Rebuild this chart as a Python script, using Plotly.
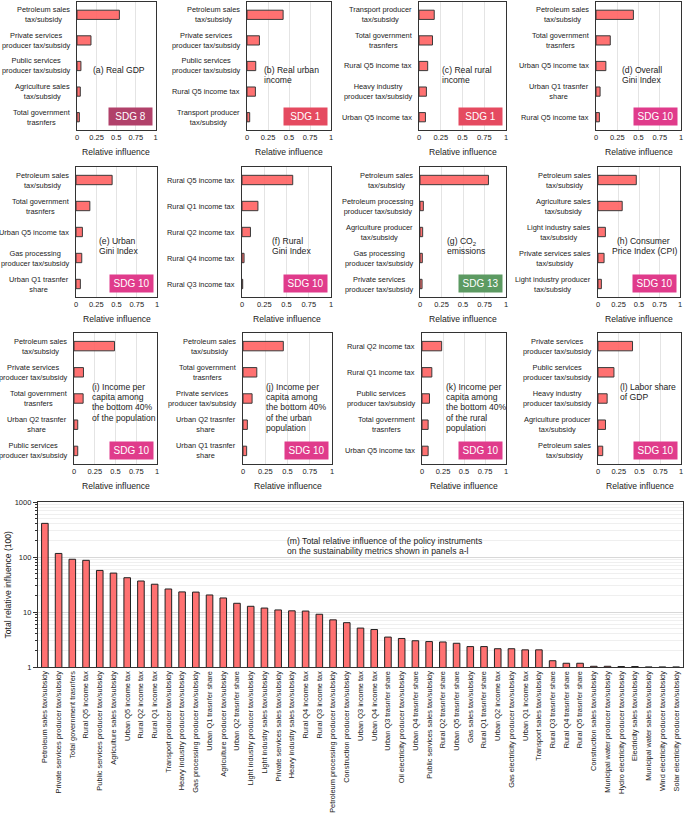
import plotly.graph_objects as go

# ---------------- data ----------------
tick_vals_rel = [0, 0.25, 0.5, 0.75, 1]
tick_text_rel = ["0", "0.25", "0.5", "0.75", "1"]

cats_a = ["Petroleum sales|tax/subsidy", "Private services|producer tax/subsidy", "Public services|producer tax/subsidy", "Agriculture sales|tax/subsidy", "Total government|trasnfers"]
vals_a = [0.54, 0.178, 0.05, 0.042, 0.03]
note_a = ["(a) Real GDP"]
sdg_a = "SDG 8"

cats_b = ["Petroleum sales|tax/subsidy", "Private services|producer tax/subsidy", "Public services|producer tax/subsidy", "Rural Q5 income tax", "Transport producer|tax/subsidy"]
vals_b = [0.43, 0.148, 0.104, 0.1, 0.032]
note_b = ["(b) Real urban", "income"]
sdg_b = "SDG 1"

cats_c = ["Transport producer|tax/subsidy", "Total government|trasnfers", "Rural Q5 income tax", "Heavy industry|producer tax/subsidy", "Urban Q5 income tax"]
vals_c = [0.175, 0.155, 0.1, 0.085, 0.074]
note_c = ["(c) Real rural", "income"]
sdg_c = "SDG 1"

cats_d = ["Petroleum sales|tax/subsidy", "Total government|trasnfers", "Urban Q5 income tax", "Urban Q1 trasnfer|share", "Rural Q5 income tax"]
vals_d = [0.44, 0.168, 0.116, 0.048, 0.04]
note_d = ["(d) Overall", "Gini Index"]
sdg_d = "SDG 10"

cats_e = ["Petroleum sales|tax/subsidy", "Total government|trasnfers", "Urban Q5 income tax", "Gas processing|producer tax/subsidy", "Urban Q1 trasnfer|share"]
vals_e = [0.446, 0.171, 0.079, 0.071, 0.054]
note_e = ["(e) Urban", "Gini Index"]
sdg_e = "SDG 10"

cats_f = ["Rural Q5 income tax", "Rural Q1 income tax", "Rural Q2 income tax", "Rural Q4 income tax", "Rural Q3 income tax"]
vals_f = [0.57, 0.179, 0.095, 0.023, 0.008]
note_f = ["(f) Rural", "Gini Index"]
sdg_f = "SDG 10"

cats_g = ["Petroleum sales|tax/subsidy", "Petroleum processing|producer tax/subsidy", "Agriculture producer|tax/subsidy", "Gas processing|producer tax/subsidy", "Private services|producer tax/subsidy"]
vals_g = [0.796, 0.039, 0.031, 0.027, 0.024]
note_g = ["(g) CO<sub>2</sub>", "emissions"]
sdg_g = "SDG 13"

cats_h = ["Petroleum sales|tax/subsidy", "Agriculture sales|tax/subsidy", "Light industry sales|tax/subsidy", "Private services sales|tax/subsidy", "Light industry producer|tax/subsidy"]
vals_h = [0.467, 0.295, 0.09, 0.074, 0.041]
note_h = ["(h) Consumer", "Price Index (CPI)"]
sdg_h = "SDG 10"

cats_i = ["Petroleum sales|tax/subsidy", "Private services|producer tax/subsidy", "Total government|trasnfers", "Urban Q2 trasnfer|share", "Public services|producer tax/subsidy"]
vals_i = [0.488, 0.114, 0.11, 0.045, 0.045]
note_i = ["(i) Income per", "capita among", "the bottom 40%", "of the population"]
sdg_i = "SDG 10"

cats_j = ["Petroleum sales|tax/subsidy", "Total government|trasnfers", "Private services|producer tax/subsidy", "Urban Q2 trasnfer|share", "Urban Q1 trasnfer|share"]
vals_j = [0.453, 0.155, 0.102, 0.049, 0.041]
note_j = ["(j) Income per", "capita among", "the bottom 40%", "of the urban", "population"]
sdg_j = "SDG 10"

cats_k = ["Rural Q2 income tax", "Rural Q1 income tax", "Public services|producer tax/subsidy", "Total government|trasnfers", "Urban Q5 income tax"]
vals_k = [0.234, 0.117, 0.089, 0.073, 0.073]
note_k = ["(k) Income per", "capita among", "the bottom 40%", "of the rural", "population"]
sdg_k = "SDG 10"

cats_l = ["Private services|producer tax/subsidy", "Public services|producer tax/subsidy", "Heavy industry|producer tax/subsidy", "Agriculture producer|tax/subsidy", "Petroleum sales|tax/subsidy"]
vals_l = [0.416, 0.192, 0.11, 0.09, 0.057]
note_l = ["(l) Labor share", "of GDP"]
sdg_l = "SDG 10"

total_cats = [
    "Petroleum sales tax/subsidy", "Private services producer tax/subsidy", "Total government trasnfers",
    "Rural Q5 income tax", "Public services producer tax/subsidy", "Agriculture sales tax/subsidy",
    "Urban Q5 income tax", "Rural Q2 income tax", "Rural Q1 income tax", "Transport producer tax/subsidy",
    "Heavy industry producer tax/subsidy", "Gas processing producer tax/subsidy", "Urban Q1 trasnfer share",
    "Agriculture producer tax/subsidy", "Urban Q2 trasnfer share", "Light industry producer tax/subsidy",
    "Light industry sales tax/subsidy", "Private services sales tax/subsidy", "Heavy industry sales tax/subsidy",
    "Rural Q4 income tax", "Rural Q3 income tax", "Petroleum processing producer tax/subsidy",
    "Construction producer tax/subsidy", "Urban Q3 income tax", "Urban Q4 income tax", "Urban Q3 trasnfer share",
    "Oil electricity producer tax/subsidy", "Urban Q4 trasnfer share", "Public services sales tax/subsidy",
    "Rural Q2 trasnfer share", "Urban Q5 trasnfer share", "Gas sales tax/subsidy", "Rural Q1 trasnfer share",
    "Urban Q2 income tax", "Gas electricity producer tax/subsidy", "Urban Q1 income tax",
    "Transport sales tax/subsidy", "Rural Q3 trasnfer share", "Rural Q4 trasnfer share", "Rural Q5 trasnfer share",
    "Construction sales tax/subsidy", "Municipal water producer tax/subsidy", "Hydro electricity producer tax/subsidy",
    "Electricity sales tax/subsidy", "Municipal water sales tax/subsidy", "Wind electricity producer tax/subsidy",
    "Solar electricity producer tax/subsidy",
]
total_vals = [
    409, 116, 91, 87, 57, 51, 42, 36.6, 32, 26.2, 23.2, 23, 20.4, 18, 14.4, 12.7, 11.8, 10.9, 10.5, 10.4,
    9.1, 7.2, 6.4, 5.1, 4.8, 3.5, 3.3, 3.0, 2.9, 2.85, 2.7, 2.35, 2.35, 2.15, 2.15, 2.05, 2.05, 1.3,
    1.17, 1.17, 1.03, 1.03, 1.02, 1.02, 1.005, 1.005, 1.005,
]
log_tick_vals = [1, 10, 100, 1000]
log_tick_text = ["1", "10", "100", "1000"]
note_m = ["(m) Total relative influence of the policy instruments", "on the sustainability metrics shown in panels a-l"]

# ---------------- layout geometry / styles ----------------
W, H = 685, 814
FONT = "Liberation Sans, Arial, Helvetica, sans-serif"
TXT = "#222222"
BAR_FILL = "rgba(255,98,98,0.9)"
BAR_LINE = "#3a3a3a"
SDG_COLORS = {"SDG 8": "#B1416A", "SDG 1": "#E54A60", "SDG 10": "#E03B8B", "SDG 13": "#5C9A62"}

rows_px = [(2, 130), (167, 297), (333, 464)]
panels = [
    ("a", cats_a, vals_a, note_a, sdg_a, 0, (77, 155.5), 0.18),
    ("b", cats_b, vals_b, note_b, sdg_b, 0, (247, 331), 0.18),
    ("c", cats_c, vals_c, note_c, sdg_c, 0, (419, 506), 0.245),
    ("d", cats_d, vals_d, note_d, sdg_d, 0, (596, 681), 0.28),
    ("e", cats_e, vals_e, note_e, sdg_e, 1, (76, 157), 0.26),
    ("f", cats_f, vals_f, note_f, sdg_f, 1, (242, 331), 0.31),
    ("g", cats_g, vals_g, note_g, sdg_g, 1, (420, 506), 0.29),
    ("h", cats_h, vals_h, note_h, sdg_h, 1, (598, 680), 0.15),
    ("i", cats_i, vals_i, note_i, sdg_i, 2, (74, 157), 0.187),
    ("j", cats_j, vals_j, note_j, sdg_j, 2, (243, 332), 0.233),
    ("k", cats_k, vals_k, note_k, sdg_k, 2, (422, 506), 0.266),
    ("l", cats_l, vals_l, note_l, sdg_l, 2, (598, 681), 0.237),
]
note_first_y = [70, 241, 386.7]
note_step = 10.3

fig = go.Figure()
annotations = []
layout = {}

for n, (key, cats, vals, note, sdg, row, (x0, x1), note_x) in enumerate(panels, start=1):
    sfx = "" if n == 1 else str(n)
    yt, yb = rows_px[row]
    disp = [c.replace("|", " ") for c in cats]
    fig.add_trace(go.Bar(
        x=vals, y=disp, orientation="h", width=0.36,
        marker=dict(color=BAR_FILL, line=dict(color=BAR_LINE, width=1)),
        xaxis="x" + sfx, yaxis="y" + sfx, showlegend=False, hoverinfo="x+y",
    ))
    layout["xaxis" + sfx] = dict(
        domain=[x0 / W, x1 / W], anchor="y" + sfx, range=[0, 1],
        tickvals=tick_vals_rel, ticktext=tick_text_rel, ticks="",
        tickfont=dict(size=7.5, color=TXT, family=FONT),
        showgrid=True, gridcolor="#e4e4e4", gridwidth=1, zeroline=False,
        showline=True, mirror=True, linecolor="#333333", linewidth=1.3,
        automargin=False, fixedrange=True,
    )
    layout["yaxis" + sfx] = dict(
        domain=[1 - yb / H, 1 - yt / H], anchor="x" + sfx, type="category",
        categoryorder="array", categoryarray=disp, range=[4.5, -0.5],
        showticklabels=False, ticks="", showgrid=False, zeroline=False,
        showline=True, mirror=True, linecolor="#333333", linewidth=1.3,
        automargin=False, fixedrange=True,
    )
    for c, d in zip(cats, disp):
        annotations.append(dict(
            text="<br>".join(c.split("|")), x=0, xref="x" + sfx + " domain", xanchor="right", xshift=-5,
            y=d, yref="y" + sfx, yanchor="middle", showarrow=False, align="center",
            font=dict(size=7.4, color=TXT, family=FONT),
        ))
    annotations.append(dict(
        text="Relative influence", x=0.5, xref="x" + sfx + " domain", xanchor="center",
        y=0, yref="y" + sfx + " domain", yanchor="middle", yshift=-22, showarrow=False,
        font=dict(size=8.6, color=TXT, family=FONT),
    ))
    for k, line in enumerate(note):
        ypx = note_first_y[row] + k * note_step
        lx = note_x
        if key == "h" and k == 0:
            lx = 0.21
        annotations.append(dict(
            text=line, x=lx, xref="x" + sfx, xanchor="left",
            y=(yb - ypx) / (yb - yt), yref="y" + sfx + " domain", yanchor="middle",
            showarrow=False, font=dict(size=8.6, color=TXT, family=FONT),
        ))
    annotations.append(dict(
        text=sdg, x=1, xref="x" + sfx + " domain", xanchor="right", xshift=-3,
        y=0, yref="y" + sfx + " domain", yanchor="bottom", yshift=4,
        width=41, height=15, bgcolor=SDG_COLORS[sdg], showarrow=False,
        font=dict(size=10, color="white", family=FONT), align="center", valign="middle",
    ))

# ---------------- bottom panel ----------------
n = 13
sfx = str(n)
fig.add_trace(go.Bar(
    x=total_cats, y=total_vals, width=0.48,
    marker=dict(color=BAR_FILL, line=dict(color="#222222", width=1)),
    xaxis="x" + sfx, yaxis="y" + sfx, showlegend=False,
))
minor_vals = [m * 10 ** e for e in range(3) for m in range(2, 10)]
layout["xaxis" + sfx] = dict(
    domain=[38 / W, 683 / W], anchor="y" + sfx, type="category",
    categoryorder="array", categoryarray=total_cats, range=[-0.5, len(total_cats) - 0.5],
    tickangle=-90, ticks="", tickfont=dict(size=7.4, color=TXT, family=FONT),
    showline=True, mirror=True, linecolor="#333333", linewidth=1.3, showgrid=False,
    automargin=False, fixedrange=True,
)
layout["yaxis" + sfx] = dict(
    domain=[1 - 667 / H, 1 - 502 / H], anchor="x" + sfx, type="log", range=[0, 3],
    tickvals=log_tick_vals, ticktext=log_tick_text, ticks="outside", ticklen=4, tickcolor="#333333",
    tickfont=dict(size=7.5, color=TXT, family=FONT),
    showgrid=True, gridcolor="#d8d8d8", gridwidth=1, zeroline=False,
    minor=dict(tickvals=minor_vals, ticks="outside", ticklen=2, tickcolor="#333333",
               showgrid=True, gridcolor="#efefef", gridwidth=1),
    showline=True, mirror=True, linecolor="#333333", linewidth=1.3,
    automargin=False, fixedrange=True,
)
annotations.append(dict(
    text="Total relative influence (100)", textangle=-90, x=7 / W, xref="paper", xanchor="center",
    y=1 - 584.5 / H, yref="paper", yanchor="middle", showarrow=False,
    font=dict(size=8.6, color=TXT, family=FONT),
))
for k, line in enumerate(note_m):
    annotations.append(dict(
        text=line, x=285 / W, xref="paper", xanchor="left",
        y=1 - (541 + 10.3 * k) / H, yref="paper", yanchor="middle", showarrow=False,
        font=dict(size=8.6, color=TXT, family=FONT),
    ))

fig.update_layout(
    width=W, height=H, margin=dict(l=0, r=0, t=0, b=0),
    paper_bgcolor="white", plot_bgcolor="white",
    font=dict(family=FONT, color=TXT), showlegend=False, bargap=0.5,
    annotations=annotations, **layout,
)
fig.write_html(
    "out.html",
    config={"displayModeBar": False},
    post_script="document.documentElement.style.margin='0';document.body.style.margin='0';document.body.style.padding='0';document.body.style.overflow='hidden';",
)
